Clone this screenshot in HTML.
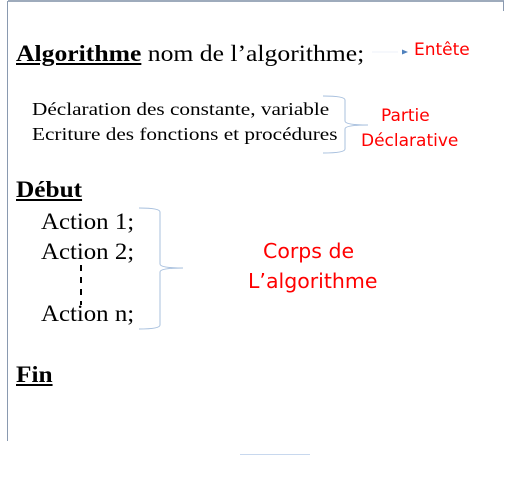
<!DOCTYPE html>
<html><head><meta charset="utf-8"><style>
body{margin:0;width:508px;height:492px;background:#fff;position:relative;overflow:hidden}
.t{position:absolute;white-space:nowrap;font-family:"Liberation Serif",serif;color:#000;line-height:1;transform-origin:0 0}
.r{position:absolute;white-space:nowrap;font-family:"DejaVu Sans","Liberation Sans",sans-serif;color:#f00;line-height:1;transform-origin:0 0}
b{text-decoration:underline;text-decoration-thickness:2px;text-underline-offset:2px}
</style></head><body>
<svg width="508" height="492" style="position:absolute;left:0;top:0">
<line x1="8" y1="1" x2="504" y2="1" stroke="#7f8fa6" stroke-width="1.5"/>
<line x1="7.5" y1="1" x2="7.5" y2="441" stroke="#8a9ab0" stroke-width="1"/>
<line x1="503.5" y1="1" x2="503.5" y2="11" stroke="#8a9ab0" stroke-width="1"/>
<line x1="240" y1="454.5" x2="310" y2="454.5" stroke="#c8d8ee" stroke-width="1"/>
<line x1="372" y1="52" x2="398" y2="52" stroke="#eef2f8" stroke-width="1"/>
<polygon points="402,49.5 408,52 402,54.5" fill="#4f81bd"/>
<path d="M323,96 Q345,96 345,100 L345,121 Q345,125 368,125 Q345,125 345,129 L345,149 Q345,153 323,153" fill="none" stroke="#a8c0de" stroke-width="1"/>
<path d="M139,208 Q160,208 160,212 L160,264 Q160,268 183,268 Q160,268 160,272 L160,325 Q160,329 139,329" fill="none" stroke="#a8c0de" stroke-width="1"/>
<line x1="81" y1="265" x2="81" y2="305" stroke="#000" stroke-width="2" stroke-dasharray="6,6"/>
</svg>
<div class="t" style="left:16px;top:42px;font-size:23px;transform:scaleX(1.115)"><b>Algorithme</b> nom de l’algorithme;</div>
<div class="r" style="left:414px;top:42px;font-size:17px">Entête</div>
<div class="t" style="left:32px;top:100px;font-size:18px;transform:scaleX(1.18)">Déclaration des constante, variable</div>
<div class="t" style="left:32px;top:125px;font-size:18px;transform:scaleX(1.18)">Ecriture des fonctions et procédures</div>
<div class="r" style="left:381px;top:108px;font-size:17px">Partie</div>
<div class="r" style="left:361px;top:133px;font-size:17px">Déclarative</div>
<div class="t" style="left:16px;top:178px;font-size:23px;transform:scaleX(1.1)"><b>Début</b></div>
<div class="t" style="left:41px;top:210px;font-size:23px;transform:scaleX(1.08)">Action 1;</div>
<div class="t" style="left:41px;top:240px;font-size:23px;transform:scaleX(1.08)">Action 2;</div>
<div class="t" style="left:41px;top:302px;font-size:23px;transform:scaleX(1.08)">Action n;</div>
<div class="r" style="left:263px;top:241px;font-size:20.5px">Corps de</div>
<div class="r" style="left:248px;top:271px;font-size:20.5px">L’algorithme</div>
<div class="t" style="left:16px;top:363px;font-size:23px;transform:scaleX(1.1)"><b>Fin</b></div>
</body></html>
